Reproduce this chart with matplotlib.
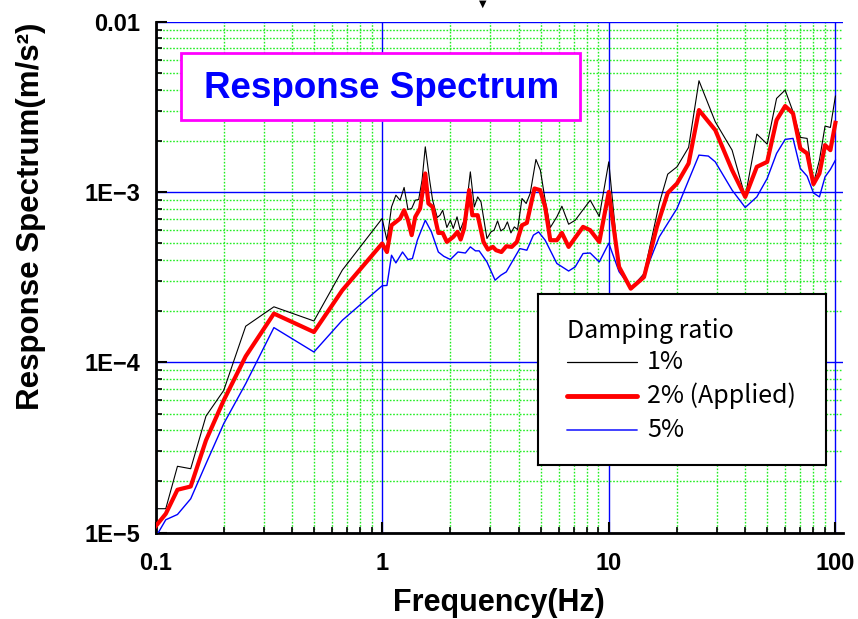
import matplotlib
matplotlib.use("Agg")
import matplotlib.pyplot as plt
from matplotlib.patches import Rectangle
from matplotlib.ticker import LogLocator, FixedLocator, FixedFormatter, NullFormatter

plt.rcParams['font.family'] = ['Liberation Sans', 'DejaVu Sans']

# damping 1%
f_1 = [0.1, 0.111, 0.125, 0.143, 0.167, 0.2, 0.25, 0.333, 0.5, 0.667,
       1.0, 1.05, 1.1, 1.15, 1.2, 1.25, 1.3, 1.35, 1.4, 1.45,
       1.5, 1.55, 1.62, 1.67, 1.75, 1.8, 1.85, 1.93, 2.0, 2.06,
       2.14, 2.21, 2.3, 2.37, 2.45, 2.55, 2.64, 2.73, 2.9, 3.02,
       3.12, 3.23, 3.34, 3.46, 3.57, 3.7, 3.83, 3.96, 4.14, 4.32,
       4.5, 4.77, 4.99, 5.24, 5.52, 5.9, 6.21, 6.65, 7.11, 8.28,
       9.08, 10.0, 11.1, 12.5, 14.3, 16.7, 18.2, 20.0, 22.5, 25.0,
       29.5, 35.0, 40.0, 45.0, 50.0, 55.0, 60.0, 65.0, 70.0, 75.0,
       80.0, 85.0, 90.0, 95.0, 100.0]
a_1 = [1.38e-5, 1.38e-5, 2.45e-5, 2.37e-5, 4.83e-5, 6.84e-5, 1.63e-4, 2.12e-4, 1.75e-4, 3.48e-4,
       7.0e-4, 5.22e-4, 8.19e-4, 9.6e-4, 8.97e-4, 1.066e-3, 7.91e-4, 8.02e-4, 8.97e-4, 9.06e-4,
       1.176e-3, 1.847e-3, 1.176e-3, 8.97e-4, 7.10e-4, 7.32e-4, 7.83e-4, 6.20e-4, 6.84e-4, 6.12e-4,
       7.16e-4, 5.98e-4, 6.84e-4, 8.97e-4, 1.316e-3, 8.19e-4, 9.38e-4, 8.77e-4, 5.34e-4, 5.84e-4,
       5.98e-4, 6.78e-4, 5.92e-4, 6.12e-4, 6.69e-4, 5.76e-4, 6.25e-4, 6.03e-4, 9.18e-4, 8.58e-4,
       9.83e-4, 1.557e-3, 1.347e-3, 8.97e-4, 6.20e-4, 7.16e-4, 8.27e-4, 6.48e-4, 6.84e-4, 8.97e-4,
       7.2e-4, 1.507e-3, 3.55e-4, 2.71e-4, 3.32e-4, 8.58e-4, 1.276e-3, 1.409e-3, 1.832e-3, 4.516e-3,
       2.592e-3, 1.766e-3, 9.38e-4, 2.194e-3, 1.916e-3, 3.556e-3, 3.98e-3, 2.968e-3, 2.098e-3, 2.07e-3,
       1.125e-3, 1.542e-3, 2.445e-3, 2.40e-3, 3.67e-3]

# damping 2% (applied)
f_2 = [0.1, 0.111, 0.125, 0.143, 0.167, 0.2, 0.25, 0.333, 0.5, 0.667,
       1.0, 1.05, 1.1, 1.15, 1.2, 1.25, 1.3, 1.35, 1.4, 1.47,
       1.55, 1.6, 1.67, 1.77, 1.85, 1.93, 2.06, 2.15, 2.22, 2.3,
       2.42, 2.5, 2.64, 2.8, 2.93, 3.08, 3.18, 3.36, 3.53, 3.73,
       3.93, 4.14, 4.35, 4.7, 4.98, 5.24, 5.52, 5.9, 6.21, 6.65,
       7.7, 8.28, 9.08, 10.0, 11.1, 12.5, 14.3, 16.3, 18.2, 20.0,
       22.5, 25.0, 29.5, 35.0, 40.0, 45.0, 50.0, 55.0, 60.0, 65.0,
       70.0, 75.0, 80.0, 85.0, 90.0, 95.0, 100.0]
a_2 = [1.085e-5, 1.288e-5, 1.783e-5, 1.864e-5, 3.48e-5, 5.98e-5, 1.085e-4, 1.934e-4, 1.507e-4, 2.65e-4,
       4.99e-4, 4.45e-4, 6.39e-4, 6.69e-4, 7.0e-4, 7.83e-4, 6.84e-4, 5.59e-4, 7.16e-4, 8.02e-4,
       1.288e-3, 8.58e-4, 8.19e-4, 5.76e-4, 5.76e-4, 5.10e-4, 5.46e-4, 5.84e-4, 5.27e-4, 6.12e-4,
       1.028e-3, 7.32e-4, 7.32e-4, 5.10e-4, 4.6e-4, 4.77e-4, 4.56e-4, 4.45e-4, 4.81e-4, 4.77e-4,
       5.10e-4, 6.39e-4, 6.60e-4, 1.051e-3, 1.028e-3, 8.19e-4, 5.22e-4, 5.22e-4, 5.76e-4, 4.77e-4,
       6.25e-4, 5.98e-4, 5.10e-4, 1.004e-3, 3.64e-4, 2.71e-4, 3.17e-4, 6.25e-4, 9.9e-4, 1.125e-3,
       1.475e-3, 3.037e-3, 2.316e-3, 1.347e-3, 9.38e-4, 1.409e-3, 1.507e-3, 2.652e-3, 3.206e-3, 2.904e-3,
       1.807e-3, 1.689e-3, 1.115e-3, 1.288e-3, 1.89e-3, 1.766e-3, 2.557e-3]

# damping 5%
f_3 = [0.1, 0.111, 0.125, 0.143, 0.167, 0.2, 0.25, 0.333, 0.5, 0.667,
       1.0, 1.05, 1.1, 1.15, 1.23, 1.3, 1.36, 1.43, 1.55, 1.65,
       1.77, 1.87, 2.0, 2.16, 2.33, 2.45, 2.58, 2.68, 2.9, 3.15,
       3.34, 3.53, 3.78, 4.05, 4.35, 4.65, 4.9, 5.24, 5.9, 6.65,
       7.11, 7.7, 8.28, 9.08, 10.0, 11.1, 12.5, 14.3, 16.7, 20.0,
       22.5, 25.0, 27.5, 29.5, 35.0, 40.0, 45.0, 50.0, 55.0, 60.0,
       65.0, 70.0, 75.0, 80.0, 85.0, 90.0, 95.0, 100.0]
a_3 = [9.35e-6, 1.188e-5, 1.276e-5, 1.578e-5, 2.536e-5, 4.36e-5, 7.49e-5, 1.6e-4, 1.15e-4, 1.766e-4,
       2.818e-4, 2.83e-4, 4.26e-4, 3.84e-4, 4.45e-4, 4.02e-4, 4.07e-4, 5.22e-4, 6.84e-4, 5.84e-4,
       4.45e-4, 4.2e-4, 4.02e-4, 4.45e-4, 4.39e-4, 4.77e-4, 4.52e-4, 4.52e-4, 3.89e-4, 3.04e-4,
       3.25e-4, 3.40e-4, 3.98e-4, 4.66e-4, 4.56e-4, 5.59e-4, 5.84e-4, 5.22e-4, 3.81e-4, 3.44e-4,
       3.64e-4, 4.36e-4, 4.39e-4, 3.89e-4, 5.01e-4, 3.41e-4, 2.75e-4, 3.25e-4, 5.46e-4, 8.02e-4,
       1.176e-3, 1.651e-3, 1.63e-3, 1.507e-3, 1.028e-3, 8.13e-4, 9.38e-4, 1.204e-3, 1.689e-3, 2.042e-3,
       2.07e-3, 1.378e-3, 1.242e-3, 9.9e-4, 9.38e-4, 1.23e-3, 1.36e-3, 1.542e-3]

x_ticks = [0.1, 1, 10, 100]
x_labels = ["0.1", "1", "10", "100"]
y_ticks = [1e-5, 1e-4, 1e-3, 1e-2]
y_labels = ["1E\u22125", "1E\u22124", "1E\u22123", "0.01"]
legend_title = "Damping ratio"
legend_labels = ["1%", "2% (Applied)", "5%"]

W, H = 858, 619
fig = plt.figure(figsize=(W / 100, H / 100), dpi=100)


def fx(px):
    return px / W


def fy(py):
    return 1 - py / H


ax = fig.add_axes([fx(155.5), fy(532.5), fx(843) - fx(155.5), fy(22) - fy(532.5)])
ax.set_xscale("log")
ax.set_yscale("log")
ax.set_xlim(0.1, 108)
ax.set_ylim(1e-5, 1e-2)

ax.plot(f_1, a_1, color="black", lw=0.8, zorder=3)
ax.plot(f_2, a_2, color="#ff0000", lw=3.0, zorder=4)
ax.plot(f_3, a_3, color="#0000ff", lw=1.0, zorder=3)

ax.xaxis.set_major_locator(FixedLocator(x_ticks))
ax.xaxis.set_major_formatter(FixedFormatter(x_labels))
ax.yaxis.set_major_locator(FixedLocator(y_ticks))
ax.yaxis.set_major_formatter(FixedFormatter(y_labels))
ax.xaxis.set_minor_locator(LogLocator(base=10, subs=range(2, 10), numticks=20))
ax.yaxis.set_minor_locator(LogLocator(base=10, subs=range(2, 10), numticks=20))
ax.xaxis.set_minor_formatter(NullFormatter())
ax.yaxis.set_minor_formatter(NullFormatter())

ax.grid(which="major", color="#0000ff", lw=1.0, ls="-", zorder=1)
ax.grid(which="minor", color="#22ee22", lw=1.0, ls=(0, (1.2, 1.2)), zorder=1)
ax.set_axisbelow(True)

for s in ["top", "right"]:
    ax.spines[s].set_visible(False)
for s in ["left", "bottom"]:
    ax.spines[s].set_linewidth(2)
    ax.spines[s].set_color("black")

ax.tick_params(which="major", direction="in", length=8, width=1.5, labelsize=17)
ax.tick_params(axis="x", which="major", pad=14)
ax.tick_params(axis="y", which="major", pad=11)
ax.tick_params(which="minor", direction="in", length=4.5, width=1.2)
for lab in ax.get_xticklabels() + ax.get_yticklabels():
    lab.set_fontweight("bold")

fig.text(fx(499), fy(603), "Frequency(Hz)", fontsize=22, fontweight="bold",
         ha="center", va="center")
fig.text(fx(31), fy(216), "Response Spectrum(m/s\u00b2)", fontsize=22.5,
         fontweight="bold", rotation=90, ha="center", va="center")

# title box
fig.add_artist(Rectangle((fx(181), fy(120)), fx(580) - fx(181), fy(53) - fy(120),
                         transform=fig.transFigure, facecolor="white",
                         edgecolor="#ff00ff", lw=2, zorder=5))
fig.text(fx(382), fy(88), "Response Spectrum", color="#0000ff", fontsize=26.5,
         fontweight="bold", ha="center", va="center", zorder=6)

# small marker above the plot
fig.text(fx(482.5), fy(4), "\u25bc", fontsize=7, ha="center", va="center",
         family="DejaVu Sans")

# legend panel
lg = fig.add_axes([fx(538), fy(465), fx(826) - fx(538), fy(294) - fy(465)])
lg.set_xlim(538, 826)
lg.set_ylim(465, 294)
lg.set_xticks([])
lg.set_yticks([])
for s in lg.spines.values():
    s.set_linewidth(1.5)
    s.set_color("black")
lg_font = ["Noto Sans CJK JP", "DejaVu Sans"]
lg.text(567, 331, legend_title, fontsize=18, family=lg_font, va="center")
row_y = [362, 396, 430]
styles = [("black", 0.9), ("#ff0000", 3.5), ("#3333ff", 1.3)]
for yy, (c, w), lab in zip(row_y, styles, legend_labels):
    lg.plot([567, 637], [yy, yy], color=c, lw=w, solid_capstyle="round")
    lg.text(647, yy, lab, fontsize=18, family=lg_font, va="center")

fig.savefig("out.png", dpi=100)
